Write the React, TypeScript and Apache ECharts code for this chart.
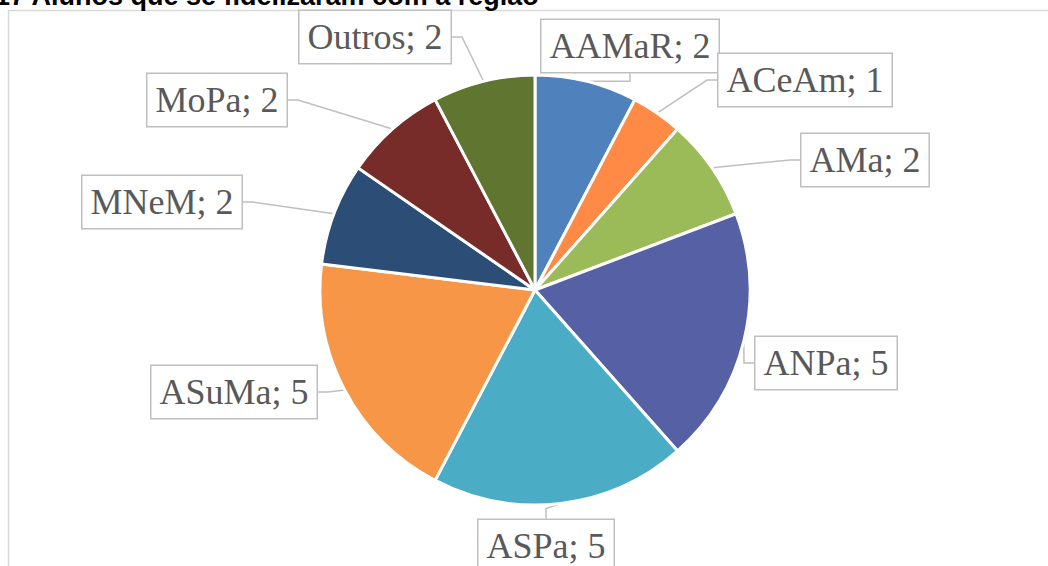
import React, { useEffect, useRef } from "react";
import * as echarts from "echarts";

const categories = ["AAMaR", "ACeAm", "AMa", "ANPa", "ASPa", "ASuMa", "MNeM", "MoPa", "Outros"];
const values = [2, 1, 2, 5, 5, 5, 2, 2, 2];
const colors = ["#4F81BD", "#FF8A45", "#9BBB59", "#5560A5", "#4BACC6", "#F79646", "#2C4D75", "#772C2A", "#5F7530"];
const titleText = "17 Alunos que se fidelizaram com a região";

// label box centres (layout only)
const labelPos: [number, number][] = [
  [630, 46],
  [805, 80],
  [865, 160],
  [826, 363],
  [546, 546],
  [234, 392],
  [162, 202],
  [217, 100],
  [375, 37],
];

export default function App() {
  const ref = useRef<HTMLDivElement>(null);
  useEffect(() => {
    if (!ref.current) return;
    const chart = echarts.init(ref.current, undefined, { renderer: "svg" });
    chart.setOption({
      animation: false,
      backgroundColor: "#fff",
      graphic: [
        {
          type: "rect",
          z: -1,
          shape: { x: 8.5, y: 10.5, width: 1200, height: 800 },
          style: { fill: "none", stroke: "#D9D9D9", lineWidth: 1.5 },
        },
        {
          type: "text",
          x: -5,
          y: -18,
          style: { text: titleText, font: 'bold 27px "Liberation Sans", Arial, sans-serif', fill: "#000" },
        },
      ],
      series: [
        {
          type: "pie",
          center: [535, 290],
          radius: 215,
          startAngle: 90,
          clockwise: true,
          avoidLabelOverlap: false,
          itemStyle: { borderColor: "#fff", borderWidth: 3 },
          label: {
            show: true,
            position: "outside",
            formatter: "{b}; {c}",
            fontFamily: '"Liberation Serif", serif',
            fontSize: 36,
            lineHeight: 40,
            color: "#595959",
            backgroundColor: "#fff",
            borderColor: "#BFBFBF",
            borderWidth: 1.5,
            padding: [6, 8],
          },
          labelLine: {
            show: true,
            length: 10,
            length2: 10,
            lineStyle: { color: "#BFBFBF", width: 1.5 },
          },
          labelLayout: (p: any) => {
            const pos = labelPos[p.dataIndex];
            return { x: pos[0], y: pos[1], align: "center", verticalAlign: "middle" };
          },
          data: categories.map((c, i) => ({ name: c, value: values[i], itemStyle: { color: colors[i] } })),
        },
      ],
    });
    return () => chart.dispose();
  }, []);
  return <div ref={ref} style={{ position: "fixed", left: 0, top: 0, width: 1048, height: 566 }} />;
}
